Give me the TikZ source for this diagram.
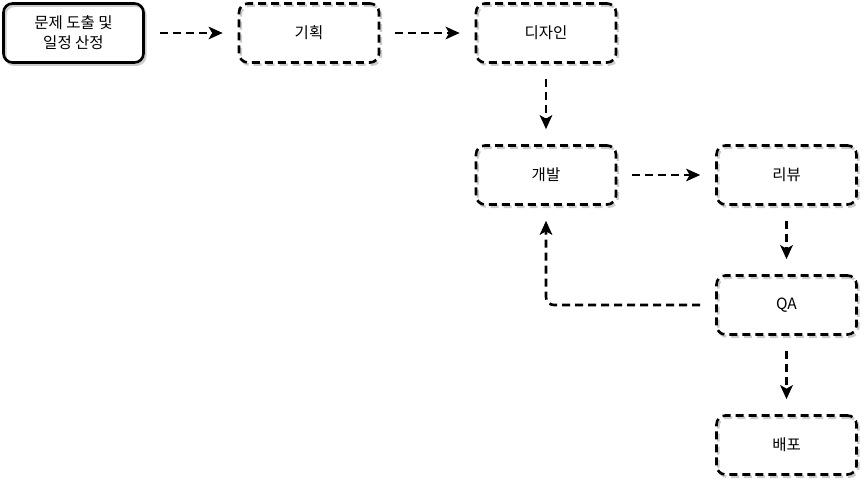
\documentclass[tikz,border=0pt]{standalone}
\usepackage{fontspec}
\setmainfont{Noto Sans CJK KR}
\usetikzlibrary{arrows.meta,positioning}
\begin{document}
\begin{tikzpicture}[x=1pt,y=-1pt,
  shadowpre/.style={preaction={draw=black!20, line width=2.6pt, transform canvas={shift={(1.8pt,-2.2pt)}}}},
  box/.style={draw, line width=2.6pt, rounded corners=9pt, minimum width=140pt, minimum height=59pt,
    dash pattern=on 8pt off 5pt, font=\fontsize{15.5pt}{20pt}\selectfont, align=center, shadowpre},
  conn/.style={line width=2.6pt, dash pattern=on 8pt off 5pt, -{Stealth[length=14pt,width=12.5pt,inset=3.5pt]},
    shorten <=15pt, shorten >=15pt, rounded corners=8pt},
]
\useasboundingbox (0,0) rectangle (864,484);
\node[box, solid] (a) at (73.5,33) {문제 도출 및\\일정 산정};
\node[box] (b) at (309,33) {기획};
\node[box] (c) at (546,33) {디자인};
\node[box] (d) at (546,175) {개발};
\node[box] (e) at (786.5,175) {리뷰};
\node[box] (f) at (786.5,305) {QA};
\node[box] (g) at (786.5,445) {배포};
\draw[conn] (a) -- (b);
\draw[conn] (b) -- (c);
\draw[conn] (c) -- (d);
\draw[conn] (d) -- (e);
\draw[conn] (e) -- (f);
\draw[conn] (f) -- (g);
\draw[conn] (f.west) -| (d.south);
\end{tikzpicture}
\end{document}
